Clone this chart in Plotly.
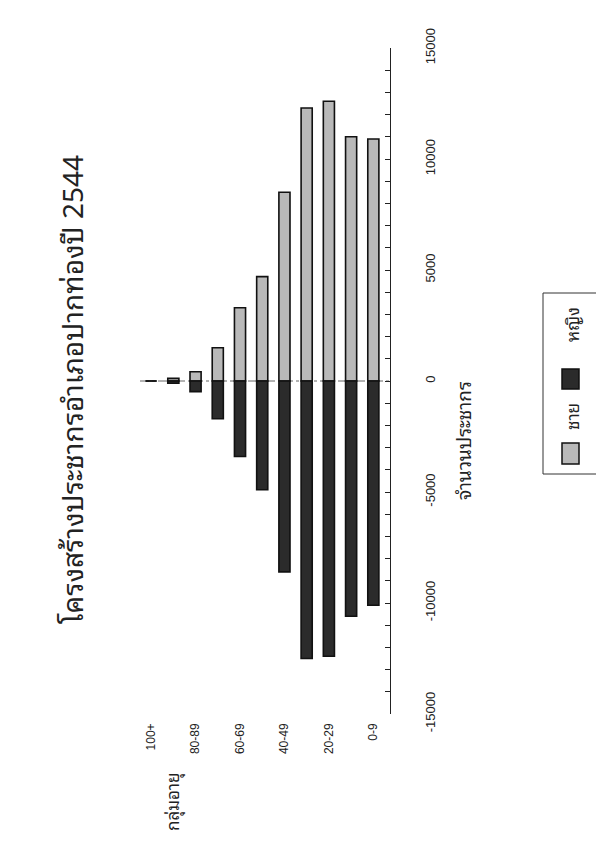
import plotly.graph_objects as go

# ---- data ----
age_groups = ['0-9', '10-19', '20-29', '30-39', '40-49', '50-59',
              '60-69', '70-79', '80-89', '90-99', '100+']
male = [10900, 11000, 12600, 12300, 8500, 4700, 3300, 1500, 420, 120, 0]
female = [-10100, -10600, -12400, -12500, -8600, -4900, -3400, -1700, -480, -100, 0]
age_tick_labels = ['100+', '80-89', '60-69', '40-49', '20-29', '0-9']
value_ticks = [-15000, -10000, -5000, 0, 5000, 10000, 15000]

title_text = 'โครงสร้างประชากรอำเภอปากท่องปี 2544'
value_title = 'จำนวนประชากร'
age_title = 'กลุ่มอายุ'
male_name = 'ชาย'
female_name = 'หญิง'

# ---- page geometry (pixels on the screenshot) ----
W, H = 604, 862
OFF = 8  # default body margin of the html page
PL, PR, PT, PB = 140, 390, 48, 714

def fx(x):
    return (x - PL) / (PR - PL)

def fy(y):
    return (PB - y) / (PB - PT)

THAI = 'Noto Sans Thai Looped, Noto Serif Thai, Noto Sans Thai, Tahoma, Loma, Garuda, sans-serif'
NUM = 'Liberation Sans, Arial, sans-serif'

order = list(reversed(age_groups))

fig = go.Figure()
fig.add_trace(go.Bar(x=age_groups, y=male, name=male_name, width=0.5,
                     marker=dict(color='#b9b9b9', line=dict(color='#111111', width=1.6))))
fig.add_trace(go.Bar(x=age_groups, y=female, name=female_name, width=0.5,
                     marker=dict(color='#2b2b2b', line=dict(color='#111111', width=1.6))))

fig.update_layout(
    width=W, height=H,
    barmode='relative',
    showlegend=False,
    paper_bgcolor='white', plot_bgcolor='white',
    margin=dict(l=PL - OFF, r=W - (PR - OFF), t=PT - OFF, b=H - (PB - OFF), autoexpand=False),
    xaxis=dict(type='category', categoryorder='array', categoryarray=order,
               range=[-0.5, 10.75], showline=False, showgrid=False, zeroline=False,
               tickmode='array', tickvals=age_tick_labels, ticktext=age_tick_labels,
               tickangle=-90, ticks='', ticklabelstandoff=6,
               tickfont=dict(family=NUM, size=12, color='#222')),
    yaxis=dict(side='right', range=[-15000, 15000], tickvals=value_ticks,
               ticktext=[str(v) for v in value_ticks],
               showline=True, linecolor='#222', linewidth=1, mirror=False,
               showgrid=False, zeroline=False,
               ticks='inside', ticklen=5, tickcolor='#222',
               minor=dict(dtick=1000, ticks='inside', ticklen=5, tickcolor='#222'),
               tickangle=-90, ticklabelstandoff=28,
               tickfont=dict(family=NUM, size=13, color='#222')),
)

# dashed zero line
fig.add_shape(type='line', xref='paper', yref='y', x0=0, x1=1, y0=0, y1=0,
              line=dict(color='#666', width=1, dash='dashdot'), layer='below')

def label(text, x, y, size):
    fig.add_annotation(text=text, xref='paper', yref='paper', x=fx(x), y=fy(y),
                       xanchor='center', yanchor='middle', textangle=-90,
                       showarrow=False, font=dict(family=THAI, size=size, color='#222'))

# title and axis titles (rotated like the scanned page)
label(title_text, 70, 390, 28)
label(value_title, 462, 441, 19)
label(age_title, 172, 802, 17)

# legend (drawn rotated)
fig.add_shape(type='rect', xref='paper', yref='paper',
              x0=fx(543), x1=fx(601), y0=fy(474), y1=fy(293),
              line=dict(color='#333', width=1), fillcolor='white')
fig.add_shape(type='rect', xref='paper', yref='paper',
              x0=fx(562), x1=fx(579), y0=fy(464), y1=fy(443),
              line=dict(color='#111', width=1.5), fillcolor='#b9b9b9')
fig.add_shape(type='rect', xref='paper', yref='paper',
              x0=fx(562), x1=fx(579), y0=fy(389), y1=fy(369),
              line=dict(color='#111', width=1.5), fillcolor='#2b2b2b')
label(male_name, 571, 417, 17)
label(female_name, 571, 325, 17)

fig.write_html('out.html')
